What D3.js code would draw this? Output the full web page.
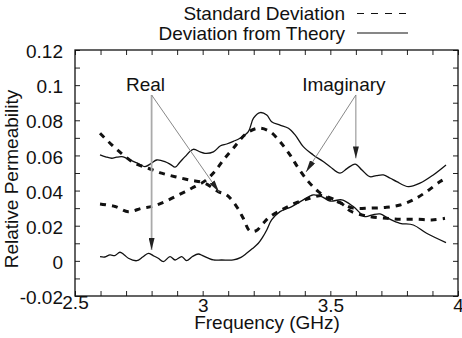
<!DOCTYPE html>
<html>
<head>
<meta charset="utf-8">
<script src="https://cdn.jsdelivr.net/npm/d3@7/dist/d3.min.js"></script>
<style>
  html, body { margin: 0; padding: 0; background: #fff; }
  svg { display: block; font-family: "Liberation Sans", Arial, Helvetica, sans-serif; }
</style>
</head>
<body>
<svg id="chart" width="462" height="338"></svg>
<script>
// ticks
const xMajorTicks = [2.5, 3, 3.5, 4];
const xTickLabels = ["2.5", "3", "3.5", "4"];
const yMajorTicks = [-0.02, 0, 0.02, 0.04, 0.06, 0.08, 0.1, 0.12];
const yTickLabels = ["-0.02", "0", "0.02", "0.04", "0.06", "0.08", "0.1", "0.12"];
const xMinorTicks = [2.5, 2.6, 2.7, 2.8, 2.9, 3, 3.1, 3.2, 3.3, 3.4, 3.5, 3.6, 3.7, 3.8, 3.9, 4];
const yMinorTicks = [-0.02, -0.01, 0, 0.01, 0.02, 0.03, 0.04, 0.05, 0.06, 0.07, 0.08, 0.09, 0.1, 0.11, 0.12];

const legendLabels = ["Standard Deviation", "Deviation from Theory"];

// deviation from theory, imaginary part (upper solid)
const imagDevFreq = [2.598, 2.62, 2.644, 2.663, 2.683, 2.70, 2.722, 2.75, 2.774, 2.80, 2.82, 2.852, 2.875, 2.892,
  2.91, 2.931, 2.963, 2.99, 3.009, 3.042, 3.07, 3.094, 3.12, 3.146, 3.179, 3.199, 3.225, 3.251, 3.27, 3.303,
  3.336, 3.362, 3.394, 3.433, 3.472, 3.499, 3.538, 3.565, 3.597, 3.625, 3.655, 3.68, 3.708, 3.735, 3.76,
  3.806, 3.851, 3.903, 3.953];
const imagDevValue = [0.0603, 0.0592, 0.0584, 0.0590, 0.0593, 0.0585, 0.0570, 0.0552, 0.0536, 0.0556, 0.0574,
  0.0565, 0.0548, 0.0533, 0.0560, 0.0593, 0.0635, 0.0620, 0.0612, 0.0620, 0.0655, 0.0665, 0.0680, 0.0698,
  0.0736, 0.0812, 0.0844, 0.0830, 0.0792, 0.0773, 0.0755, 0.0717, 0.0650, 0.0603, 0.0565, 0.0536, 0.0499,
  0.0525, 0.0551, 0.0515, 0.0479, 0.0485, 0.0489, 0.0470, 0.0451, 0.0422, 0.0442, 0.0489, 0.0546];

// deviation from theory, real part (lower solid)
const realDevFreq = [2.598, 2.617, 2.637, 2.656, 2.676, 2.692, 2.709, 2.742, 2.765, 2.787, 2.806, 2.826, 2.846,
  2.872, 2.892, 2.918, 2.937, 2.96, 2.983, 3.0, 3.022, 3.042, 3.074, 3.12, 3.15, 3.172, 3.195, 3.218, 3.235,
  3.251, 3.27, 3.303, 3.349, 3.394, 3.433, 3.466, 3.499, 3.545, 3.59, 3.636, 3.665, 3.695, 3.727, 3.773,
  3.825, 3.877, 3.953];
const realDevValue = [0.0024, 0.0022, 0.0034, 0.0030, 0.0049, 0.0035, 0.0015, 0.0001, 0.0022, 0.0043, 0.0030,
  0.0015, -0.0004, 0.0024, 0.0005, 0.0024, 0.0001, 0.0025, 0.0039, 0.0030, 0.0015, 0.0005, 0.0005, 0.0005,
  0.0020, 0.0043, 0.0070, 0.0100, 0.0135, 0.0176, 0.0233, 0.0280, 0.0309, 0.0347, 0.0375, 0.0366, 0.0340,
  0.0347, 0.0309, 0.0252, 0.0262, 0.0267, 0.0242, 0.0214, 0.0204, 0.0157, 0.0104];

// standard deviation, real part (dashed, starts high)
const realStdFreq = [2.598, 2.644, 2.689, 2.735, 2.787, 2.839, 2.892, 2.95, 3.009, 3.061, 3.094, 3.133, 3.159,
  3.185, 3.21, 3.237, 3.264, 3.309, 3.362, 3.42, 3.466, 3.5, 3.55, 3.577, 3.642, 3.72, 3.773, 3.838, 3.897, 3.949];
const realStdValue = [0.0726, 0.0660, 0.0603, 0.0555, 0.0527, 0.0499, 0.0479, 0.0460, 0.0442, 0.0394, 0.0375,
  0.0309, 0.0242, 0.0170, 0.0172, 0.0214, 0.0252, 0.0290, 0.0328, 0.0356, 0.0372, 0.0358, 0.0320, 0.0285,
  0.0255, 0.0242, 0.0237, 0.0237, 0.0233, 0.0242];

// standard deviation, imaginary part (dashed, with peak)
const imagStdFreq = [2.598, 2.657, 2.709, 2.761, 2.807, 2.852, 2.905, 2.957, 3.009, 3.048, 3.081, 3.12, 3.172,
  3.218, 3.264, 3.303, 3.342, 3.375, 3.414, 3.453, 3.492, 3.54, 3.59, 3.655, 3.72, 3.773, 3.825, 3.877, 3.93, 3.953];
const imagStdValue = [0.0324, 0.0309, 0.0280, 0.0299, 0.0312, 0.0337, 0.0375, 0.0413, 0.0455, 0.0510, 0.0574,
  0.0641, 0.0726, 0.0755, 0.0735, 0.0678, 0.0603, 0.0527, 0.0451, 0.0394, 0.0356, 0.0330, 0.0300, 0.0300,
  0.0305, 0.0318, 0.0347, 0.0394, 0.0451, 0.0470];

// annotations: label position, vertex of the two pointers, and their tips (data units)
const annotationLabels = ["Real", "Imaginary"];
const annotationLabelFreq = [2.776, 3.553];
const annotationLabelValue = [0.0967, 0.0967];
const annotationVertexFreq = [2.8, 3.6];
const annotationVertexValue = [0.0944, 0.0944];
const annotationTipFreq = [[2.8, 3.064], [3.6, 3.405]];
const annotationTipValue = [[0.0062, 0.0392], [0.0583, 0.0506]];

let width = 462;
let height = 338;
let margin = { top: 50, right: 4, bottom: 42, left: 75 };

let x = d3.scaleLinear().domain([2.5, 4]).range([margin.left, width - margin.right]);
let y = d3.scaleLinear().domain([-0.02, 0.12]).range([height - margin.bottom, margin.top]);

const svg = d3.select("#chart");
const textColor = "#111";
const fontSize = 19;

// minor/major ticks on all four sides, pointing inwards
let tickLen = 5;
svg.append("g")
  .attr("transform", `translate(0,${y(-0.02)})`)
  .call(d3.axisBottom(x).tickValues(xMinorTicks).tickSize(-tickLen).tickFormat(""))
  .call((g) => g.select(".domain").remove());
svg.append("g")
  .attr("transform", `translate(0,${y(0.12)})`)
  .call(d3.axisTop(x).tickValues(xMinorTicks).tickSize(-tickLen).tickFormat(""))
  .call((g) => g.select(".domain").remove());
svg.append("g")
  .attr("transform", `translate(${x(2.5)},0)`)
  .call(d3.axisLeft(y).tickValues(yMinorTicks).tickSize(-tickLen).tickFormat(""))
  .call((g) => g.select(".domain").remove());
svg.append("g")
  .attr("transform", `translate(${x(4)},0)`)
  .call(d3.axisRight(y).tickValues(yMinorTicks).tickSize(-tickLen).tickFormat(""))
  .call((g) => g.select(".domain").remove());
svg.selectAll(".tick line").attr("stroke", "#222").attr("stroke-width", 1);

// tick labels
svg.append("g")
  .attr("transform", `translate(0,${y(-0.02)})`)
  .call(d3.axisBottom(x).tickValues(xMajorTicks).tickSize(0)
    .tickFormat((d, i) => xTickLabels[i]))
  .call((g) => g.select(".domain").remove())
  .call((g) => g.selectAll("text")
    .attr("font-size", fontSize)
    .attr("font-family", null)
    .attr("fill", textColor)
    .attr("dy", 0)
    .attr("y", (d, i) => (i === 0 ? 12.5 : 15.5)));

svg.append("g")
  .attr("transform", `translate(${x(2.5)},0)`)
  .call(d3.axisLeft(y).tickValues(yMajorTicks).tickSize(0).tickPadding(12)
    .tickFormat((d, i) => yTickLabels[i]))
  .call((g) => g.select(".domain").remove())
  .call((g) => g.selectAll("text")
    .attr("font-size", fontSize)
    .attr("font-family", null)
    .attr("fill", textColor)
    .attr("dy", "0.4em"));

// frame
svg.append("rect")
  .attr("x", x(2.5))
  .attr("y", y(0.12))
  .attr("width", x(4) - x(2.5))
  .attr("height", y(-0.02) - y(0.12))
  .attr("fill", "none")
  .attr("stroke", "#111")
  .attr("stroke-width", 1.3);

// axis titles
svg.append("text")
  .attr("x", (x(2.5) + x(4)) / 2 + 0.5)
  .attr("y", 329)
  .attr("text-anchor", "middle")
  .attr("font-size", fontSize)
  .attr("fill", textColor)
  .text("Frequency (GHz)");

svg.append("text")
  .attr("transform", `translate(18,179) rotate(-90)`)
  .attr("text-anchor", "middle")
  .attr("font-size", fontSize)
  .attr("fill", textColor)
  .text("Relative Permeability");

// curves
let line = d3.line()
  .x((d) => x(d[0]))
  .y((d) => y(d[1]))
  .curve(d3.curveCatmullRom.alpha(0.5));

function zipSeries(freq, value) {
  return freq.map((f, i) => [f, value[i]]);
}

let solidSeries = [zipSeries(imagDevFreq, imagDevValue), zipSeries(realDevFreq, realDevValue)];
let dashedSeries = [zipSeries(realStdFreq, realStdValue), zipSeries(imagStdFreq, imagStdValue)];

svg.append("g")
  .selectAll("path")
  .data(dashedSeries)
  .join("path")
  .attr("d", line)
  .attr("fill", "none")
  .attr("stroke", "#111")
  .attr("stroke-width", 3)
  .attr("stroke-dasharray", "6,6");

svg.append("g")
  .selectAll("path")
  .data(solidSeries)
  .join("path")
  .attr("d", line)
  .attr("fill", "none")
  .attr("stroke", "#111")
  .attr("stroke-width", 1.3)
  .attr("stroke-linejoin", "round");

// annotations
svg.append("defs")
  .append("marker")
  .attr("id", "head")
  .attr("viewBox", "0 0 12 6")
  .attr("refX", 12)
  .attr("refY", 3)
  .attr("markerWidth", 12)
  .attr("markerHeight", 6)
  .attr("markerUnits", "userSpaceOnUse")
  .attr("orient", "auto")
  .append("path")
  .attr("d", "M0,0 L12,3 L0,6 Z")
  .attr("fill", "#222");

annotationLabels.forEach((label, i) => {
  svg.append("text")
    .attr("x", x(annotationLabelFreq[i]))
    .attr("y", y(annotationLabelValue[i]))
    .attr("text-anchor", "middle")
    .attr("font-size", fontSize)
    .attr("fill", textColor)
    .text(label);

  annotationTipFreq[i].forEach((tf, j) => {
    svg.append("line")
      .attr("x1", x(annotationVertexFreq[i]))
      .attr("y1", y(annotationVertexValue[i]))
      .attr("x2", x(tf))
      .attr("y2", y(annotationTipValue[i][j]))
      .attr("stroke", j === 0 && i === 0 ? "#aaa" : "#888")
      .attr("stroke-width", j === 0 && i === 0 ? 1.8 : 1)
      .attr("marker-end", "url(#head)");
  });
});

// legend
let legendX = 345;
let legendY = [20, 39.5];
legendLabels.forEach((label, i) => {
  svg.append("text")
    .attr("x", legendX)
    .attr("y", legendY[i])
    .attr("text-anchor", "end")
    .attr("font-size", fontSize)
    .attr("fill", textColor)
    .text(label);

  svg.append("line")
    .attr("x1", legendX + 12)
    .attr("x2", legendX + 63)
    .attr("y1", legendY[i] - 6.5)
    .attr("y2", legendY[i] - 6.5)
    .attr("stroke", "#111")
    .attr("stroke-width", 1.2)
    .attr("stroke-dasharray", i === 0 ? "7,7" : null);
});
</script>
</body>
</html>
